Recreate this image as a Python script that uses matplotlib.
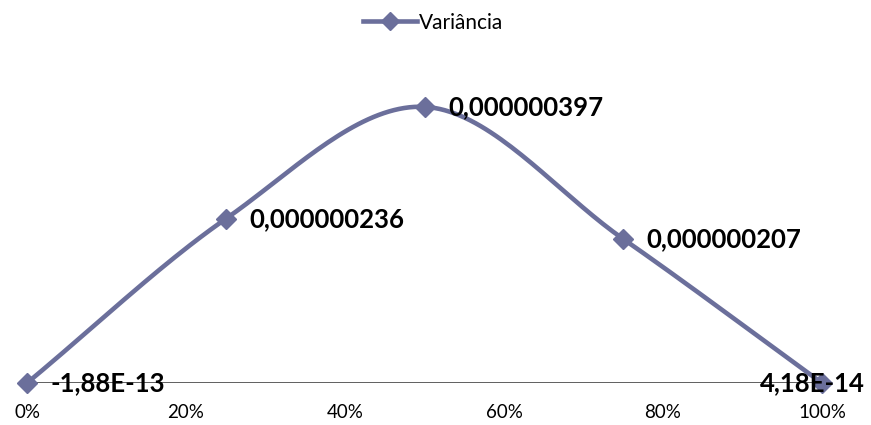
import numpy as np
import matplotlib.pyplot as plt

x_vals = [0.0, 0.25, 0.5, 0.75, 1.0]
variancia = [-1.88e-13, 2.36e-7, 3.97e-7, 2.07e-7, 4.18e-14]
point_labels = ['-1,88E-13', '0,000000236', '0,000000397', '0,000000207', '4,18E-14']
tick_pos = [0, 0.2, 0.4, 0.6, 0.8, 1.0]
tick_labels = ['0%', '20%', '40%', '60%', '80%', '100%']

line_color = '#6b6f9b'
plt.rcParams['font.family'] = ['Lato', 'DejaVu Sans']


def smooth(xs, ys, n=40):
    # bezier smoothing like excel's "smoothed line", ends aim at the neighbour
    xs = np.asarray(xs, float)
    ys = np.asarray(ys, float)
    px = np.concatenate([[2 * xs[0] - xs[1]], xs, [2 * xs[-1] - xs[-2]]])
    py = np.concatenate([[2 * ys[0] - ys[1]], ys, [2 * ys[-1] - ys[-2]]])
    outx, outy = [], []
    for i in range(1, len(px) - 2):
        t = np.linspace(0, 1, n)
        for p, out in ((px, outx), (py, outy)):
            p0, p1, p2, p3 = p[i - 1], p[i], p[i + 1], p[i + 2]
            m1 = (p2 - p0) / 2
            m2 = (p3 - p1) / 2
            h00 = 2 * t**3 - 3 * t**2 + 1
            h10 = t**3 - 2 * t**2 + t
            h01 = -2 * t**3 + 3 * t**2
            h11 = t**3 - t**2
            out.extend(h00 * p1 + h10 * m1 + h01 * p2 + h11 * m2)
    return np.array(outx), np.array(outy)


fig = plt.figure(figsize=(8.71, 4.25), dpi=100)
ax = fig.add_axes([27 / 871, 42 / 425, 795 / 871, 313 / 425])

sx, sy = smooth(x_vals, variancia)
ax.plot(sx, sy, color=line_color, lw=3.3, solid_capstyle='round', clip_on=False, zorder=3)
ax.plot(x_vals, variancia, ls='none', marker='D', ms=10, color=line_color, clip_on=False, zorder=4)

ax.axhline(0, color='#444444', lw=1.2, zorder=2)

offsets = [(17, 0), (17, 0), (17, 0), (17, 0), (-45, 0)]
for x, y, lab, off in zip(x_vals, variancia, point_labels, offsets):
    ax.annotate(lab, (x, y), xytext=off, textcoords='offset points',
                ha='left', va='center', fontsize=18.5, fontweight='bold', zorder=5)

ax.set_xlim(0, 1)
ax.set_ylim(0, 4.5e-7)
ax.set_xticks(tick_pos)
ax.set_xticklabels(tick_labels, fontsize=13.5)
ax.tick_params(axis='x', length=0, pad=15)
ax.set_yticks([])
for s in ax.spines.values():
    s.set_visible(False)

# legend at top
leg = fig.legend([plt.Line2D([], [], color=line_color, lw=3.3, marker='D', ms=9)], ['Variância'],
                 loc='center', bbox_to_anchor=(0.497, 0.947), frameon=False, fontsize=15,
                 handlelength=2.6, handletextpad=0.1)

fig.savefig('out.png', dpi=100)
